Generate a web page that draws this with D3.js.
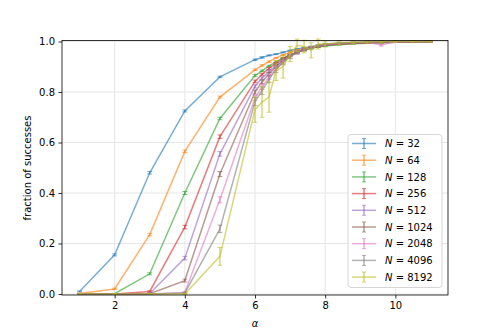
<!DOCTYPE html>
<html><head><meta charset="utf-8">
<script src="https://cdn.jsdelivr.net/npm/d3@7"></script>
<style>body{margin:0;background:#fff}svg{display:block}text{font-family:"DejaVu Sans",sans-serif}</style>
</head><body>
<script>
const alphaValues = [1,2,3,4,5,6,6.2,6.4,6.6,6.8,7,7.2,7.4,7.6,7.8,8,8.4,8.8,9.2,9.6,10,10.5,11];
const seriesNames = ["32","64","128","256","512","1024","2048","4096","8192"];
const colors = ["#1f77b4","#ff7f0e","#2ca02c","#d62728","#9467bd","#8c564b","#e377c2","#7f7f7f","#bcbd22"];
const v32   = [0.01,0.155,0.48,0.725,0.86,0.928,0.937,0.945,0.95,0.957,0.964,0.97,0.975,0.979,0.983,0.986,0.99,0.993,0.995,0.996,0.997,0.998,0.999];
const v64   = [0.002,0.02,0.235,0.565,0.78,0.888,0.905,0.92,0.935,0.947,0.957,0.965,0.971,0.977,0.981,0.985,0.989,0.992,0.994,0.996,0.997,0.998,0.999];
const v128  = [0.001,0.001,0.08,0.40,0.695,0.865,0.884,0.903,0.92,0.935,0.947,0.957,0.965,0.972,0.978,0.982,0.987,0.991,0.993,0.995,0.997,0.998,0.999];
const v256  = [0,0,0.01,0.265,0.623,0.842,0.87,0.893,0.914,0.932,0.947,0.958,0.967,0.975,0.98,0.985,0.99,0.993,0.995,0.997,0.998,0.999,1];
const v512  = [0,0,0.002,0.142,0.555,0.822,0.855,0.882,0.905,0.927,0.944,0.957,0.967,0.975,0.981,0.986,0.991,0.994,0.996,0.997,0.998,0.999,1];
const v1024 = [0,0,0.001,0.053,0.475,0.80,0.84,0.872,0.9,0.924,0.943,0.957,0.968,0.976,0.982,0.987,0.992,0.995,0.997,0.998,0.999,1,1];
const v2048 = [0,0,0,0.006,0.373,0.776,0.82,0.86,0.893,0.92,0.94,0.956,0.967,0.976,0.983,0.988,0.993,0.996,0.997,0.986,0.999,1,1];
const v4096 = [0,0,0,0.004,0.258,0.762,0.805,0.85,0.888,0.918,0.94,0.957,0.968,0.977,0.984,0.989,0.994,0.996,0.998,0.999,1,1,1];
const v8192 = [0,0,0,0,0.149,0.73,0.76,0.78,0.885,0.90,0.95,0.985,0.98,0.965,0.99,0.99,0.995,0.997,0.998,0.999,1,1,1];
const e32   = [0.002,0.004,0.005,0.004,0.003,0.003,0.003,0.002,0.002,0.002,0.002,0.002,0.002,0.001,0.001,0.001,0.001,0.001,0.001,0.001,0.001,0.001,0.001];
const e64   = [0.001,0.003,0.005,0.005,0.004,0.003,0.003,0.003,0.002,0.002,0.002,0.002,0.002,0.001,0.001,0.001,0.001,0.001,0.001,0.001,0.001,0.001,0.001];
const e128  = [0.001,0.001,0.004,0.006,0.005,0.004,0.003,0.003,0.003,0.002,0.002,0.002,0.002,0.002,0.001,0.001,0.001,0.001,0.001,0.001,0.001,0.001,0.001];
const e256  = [0,0,0.003,0.007,0.007,0.005,0.004,0.004,0.003,0.003,0.003,0.002,0.002,0.002,0.002,0.001,0.001,0.001,0.001,0.001,0.001,0.001,0.001];
const e512  = [0,0,0.002,0.007,0.009,0.006,0.005,0.005,0.004,0.004,0.003,0.003,0.002,0.002,0.002,0.002,0.001,0.001,0.001,0.001,0.001,0.001,0.001];
const e1024 = [0,0,0.001,0.006,0.01,0.008,0.007,0.006,0.005,0.005,0.004,0.003,0.003,0.003,0.002,0.002,0.002,0.001,0.001,0.001,0.001,0.001,0.001];
const e2048 = [0,0,0,0.003,0.012,0.011,0.01,0.009,0.008,0.007,0.006,0.005,0.004,0.004,0.003,0.003,0.002,0.002,0.002,0.004,0.001,0.001,0.001];
const e4096 = [0,0,0,0.003,0.015,0.016,0.015,0.013,0.011,0.01,0.008,0.007,0.006,0.005,0.004,0.004,0.003,0.002,0.002,0.002,0.001,0.001,0.001];
const e8192 = [0,0,0,0,0.035,0.05,0.06,0.06,0.04,0.045,0.03,0.025,0.025,0.03,0.02,0.012,0.008,0.006,0.005,0.004,0.003,0.002,0.002];
const yTicks = [0,0.2,0.4,0.6,0.8,1.0];
const xTicks = [2,4,6,8,10];

const values = [v32,v64,v128,v256,v512,v1024,v2048,v4096,v8192];
const errors = [e32,e64,e128,e256,e512,e1024,e2048,e4096,e8192];

const W=498,H=332;
const svg=d3.select("body").append("svg").attr("width",W).attr("height",H);
const x=d3.scaleLinear().domain([0.5,11.5]).range([62,448]);
const y=d3.scaleLinear().domain([-0.004,1.004]).range([295,40.5]);

// grid
const g=svg.append("g");
g.selectAll(".gx").data(xTicks).join("line").attr("x1",d=>x(d)).attr("x2",d=>x(d)).attr("y1",40.5).attr("y2",295).attr("stroke","#e6e6e6").attr("stroke-width",1);
g.selectAll(".gy").data(yTicks).join("line").attr("y1",d=>y(d)).attr("y2",d=>y(d)).attr("x1",62).attr("x2",448).attr("stroke","#e6e6e6").attr("stroke-width",1);

const line=d3.line().x(d=>x(d[0])).y(d=>y(d[1]));
const cap=2.5;
values.forEach((vals,i)=>{
  const pts=alphaValues.map((a,j)=>[a,vals[j],errors[i][j]]);
  const sg=svg.append("g").attr("stroke",colors[i]).attr("stroke-opacity",0.6).attr("fill","none");
  sg.append("path").attr("d",line(pts)).attr("stroke-width",1.5);
  pts.forEach(p=>{
    const cx=x(p[0]), y1=y(p[1]-p[2]), y2=y(p[1]+p[2]);
    sg.append("line").attr("x1",cx).attr("x2",cx).attr("y1",y1).attr("y2",y2).attr("stroke-width",1.5);
    sg.append("line").attr("x1",cx-cap).attr("x2",cx+cap).attr("y1",y1).attr("y2",y1).attr("stroke-width",1);
    sg.append("line").attr("x1",cx-cap).attr("x2",cx+cap).attr("y1",y2).attr("y2",y2).attr("stroke-width",1);
  });
});

// axes
const ax=svg.append("g").attr("transform","translate(0,295)").call(d3.axisBottom(x).tickValues(xTicks).tickSize(3.5).tickPadding(3.5).tickFormat(d3.format("d")));
const ay=svg.append("g").attr("transform","translate(62,0)").call(d3.axisLeft(y).tickValues(yTicks).tickSize(3.5).tickPadding(3.5).tickFormat(d3.format(".1f")));
[ax,ay].forEach(a=>{a.select(".domain").remove();a.selectAll("text").attr("font-size",10).attr("fill","#000").attr("font-family","DejaVu Sans");a.selectAll("line").attr("stroke","#000").attr("stroke-width",0.8);});
svg.append("rect").attr("x",62).attr("y",40.5).attr("width",386).attr("height",254.5).attr("fill","none").attr("stroke","#000").attr("stroke-width",0.8);

svg.append("text").attr("x",255).attr("y",327).attr("text-anchor","middle").attr("font-size",10).attr("font-style","italic").text("α");
svg.append("text").attr("transform","translate(31,168) rotate(-90)").attr("text-anchor","middle").attr("font-size",10).text("fraction of successes");

// legend
const lg=svg.append("g");
lg.append("rect").attr("x",348).attr("y",134.5).attr("width",94).attr("height",153).attr("rx",3).attr("fill","#fff").attr("fill-opacity",0.8).attr("stroke","#cccccc").attr("stroke-width",0.8);
seriesNames.forEach((n,i)=>{
  const cy=143.5+i*16.7;
  const hg=lg.append("g").attr("stroke",colors[i]).attr("stroke-opacity",0.6);
  hg.append("line").attr("x1",352).attr("x2",376).attr("y1",cy).attr("y2",cy).attr("stroke-width",1.5);
  hg.append("line").attr("x1",364).attr("x2",364).attr("y1",cy-5).attr("y2",cy+5).attr("stroke-width",1.5);
  hg.append("line").attr("x1",362).attr("x2",366).attr("y1",cy-5).attr("y2",cy-5).attr("stroke-width",1);
  hg.append("line").attr("x1",362).attr("x2",366).attr("y1",cy+5).attr("y2",cy+5).attr("stroke-width",1);
  const t=lg.append("text").attr("x",385).attr("y",cy+3.6).attr("font-size",10);
  t.append("tspan").attr("font-style","italic").text("N");
  t.append("tspan").text(" = "+n);
});
</script>
</body></html>
